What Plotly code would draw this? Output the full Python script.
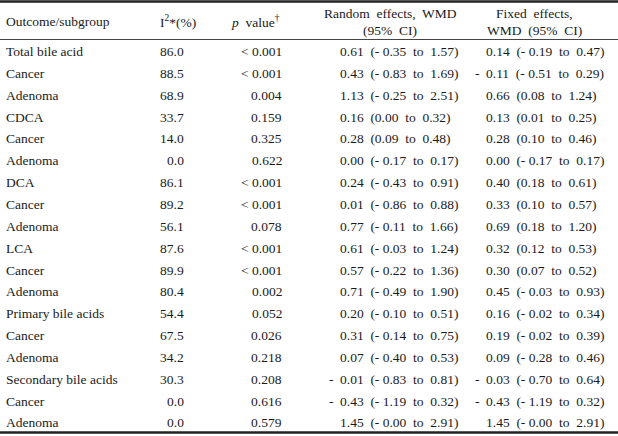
import plotly.graph_objects as go

subgroups = ["Total bile acid", "Cancer", "Adenoma", "CDCA", "Cancer", "Adenoma",
             "DCA", "Cancer", "Adenoma", "LCA", "Cancer", "Adenoma",
             "Primary bile acids", "Cancer", "Adenoma", "Secondary bile acids",
             "Cancer", "Adenoma"]
i2 = [86.0, 88.5, 68.9, 33.7, 14.0, 0.0, 86.1, 89.2, 56.1, 87.6, 89.9, 80.4,
      54.4, 67.5, 34.2, 30.3, 0.0, 0.0]
pvals = ["< 0.001", "< 0.001", "0.004", "0.159", "0.325", "0.622", "< 0.001",
         "< 0.001", "0.078", "< 0.001", "< 0.001", "0.002", "0.052", "0.026",
         "0.218", "0.208", "0.616", "0.579"]
rand_est = [0.61, 0.43, 1.13, 0.16, 0.28, 0.00, 0.24, 0.01, 0.77, 0.61, 0.57, 0.71,
            0.20, 0.31, 0.07, -0.01, -0.43, 1.45]
rand_lo = [-0.35, -0.83, -0.25, 0.00, 0.09, -0.17, -0.43, -0.86, -0.11, -0.03, -0.22,
           -0.49, -0.10, -0.14, -0.40, -0.83, -1.19, -0.0]
rand_hi = [1.57, 1.69, 2.51, 0.32, 0.48, 0.17, 0.91, 0.88, 1.66, 1.24, 1.36, 1.90,
           0.51, 0.75, 0.53, 0.81, 0.32, 2.91]
fix_est = [0.14, -0.11, 0.66, 0.13, 0.28, 0.00, 0.40, 0.33, 0.69, 0.32, 0.30, 0.45,
           0.16, 0.19, 0.09, -0.03, -0.43, 1.45]
fix_lo = [-0.19, -0.51, 0.08, 0.01, 0.10, -0.17, 0.18, 0.10, 0.18, 0.12, 0.07, -0.03,
          -0.02, -0.02, -0.28, -0.70, -1.19, -0.0]
fix_hi = [0.47, 0.29, 1.24, 0.25, 0.46, 0.17, 0.61, 0.57, 1.20, 0.53, 0.52, 0.93,
          0.34, 0.39, 0.46, 0.64, 0.32, 2.91]

header_first = "Outcome/subgroup"
header_i2 = "I<sup>2</sup>*(%)"
header_p = "<i>p</i>  value<sup>†</sup>"
header_rand = ["Random  effects,  WMD", "(95%  CI)"]
header_fix = ["Fixed  effects,", "WMD  (95%  CI)"]

W, H = 618, 436
FONT = dict(family="Liberation Serif, Times New Roman, serif", size=13.5, color="#1a1a1a")


def fmt(v):
    s = f"{v:.2f}"
    return ("- " + s[1:]) if s.startswith("-") else s


def ci_text(e, lo, hi):
    return f"{fmt(e)}  ({fmt(lo)}  to  {fmt(hi)})"


def nb(s):
    return s.replace("  ", "\u00a0 ")


fig = go.Figure()
ann = []
row0, step = 51.5, 21.85
x_first, x_i2, x_p, x_rand, x_fix = 4, 186, 284, 338, 484


def add(x, y, text, anchor="left"):
    ann.append(dict(x=x, y=y, xref="x", yref="y", text=nb(text), showarrow=False,
                    xanchor=anchor, yanchor="middle", font=FONT))


# header
add(x_first, 21, header_first)
add(178, 21, header_i2, "center")
add(282, 21, header_p, "right")
add(390, 13, header_rand[0], "center")
add(390, 30, header_rand[1], "center")
add(534, 13, header_fix[0], "center")
add(534, 30, header_fix[1], "center")

for i, name in enumerate(subgroups):
    y = row0 + i * step
    add(x_first, y, name)
    add(x_i2, y, f"{i2[i]:.1f}", "right")
    add(x_p, y, pvals[i], "right")
    for x0, e, lo, hi in ((x_rand, rand_est[i], rand_lo[i], rand_hi[i]),
                          (x_fix, fix_est[i], fix_lo[i], fix_hi[i])):
        t = ci_text(e, lo, hi)
        if t.startswith("- "):
            add(x0 - 2, y, "-", "right")
            t = t[2:]
        add(x0, y, t)

shapes = [
    dict(type="line", xref="x", yref="y", x0=0, x1=W, y0=1.5, y1=1.5,
         line=dict(color="#222222", width=2.5)),
    dict(type="line", xref="x", yref="y", x0=0, x1=W, y0=39.5, y1=39.5,
         line=dict(color="#444444", width=1)),
    dict(type="line", xref="x", yref="y", x0=0, x1=W, y0=432.5, y1=432.5,
         line=dict(color="#222222", width=2.5)),
]

fig.update_layout(
    width=W, height=H, margin=dict(l=0, r=0, t=0, b=0),
    paper_bgcolor="white", plot_bgcolor="white",
    xaxis=dict(range=[0, W], visible=False, fixedrange=True),
    yaxis=dict(range=[H, 0], visible=False, fixedrange=True),
    annotations=ann, shapes=shapes, showlegend=False,
)
fig.write_html("out.html", config={"displayModeBar": False},
               post_script="document.body.style.margin='0';document.body.style.overflow='hidden';")
